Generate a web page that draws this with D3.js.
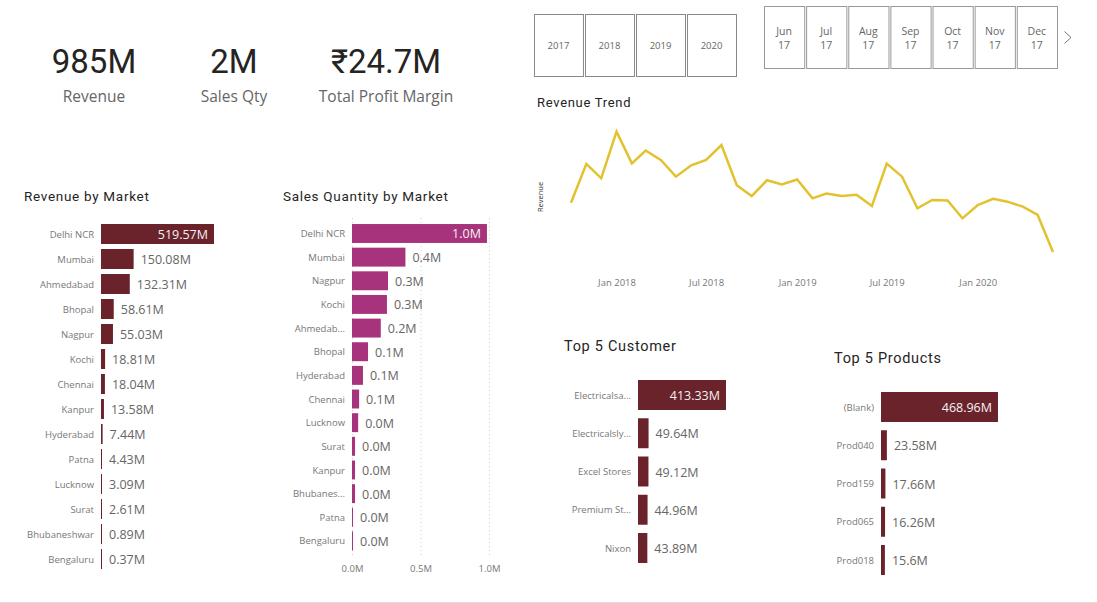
<!DOCTYPE html>
<html>
<head>
<meta charset="utf-8">
<script type="text/javascript" src="https://d3js.org/d3.v7.min.js"></script>
<style>
	html, body { margin: 0; padding: 0; background: #fff; }
	svg { display: block; }
	text { font-family: "Open Sans", sans-serif; }
	.title { font-family: Roboto, sans-serif; font-weight: 400; fill: #252423; letter-spacing: 0.7px; }
	.kpi { font-family: Roboto, "DejaVu Sans", sans-serif; font-size: 33px; fill: #252423; text-anchor: middle; }
	.kpiLabel { font-size: 15.5px; fill: #666; text-anchor: middle; }
	.cat text { font-size: 9.5px; fill: #777; }
	.val { font-size: 12.5px; fill: #666; }
	.val.inside { fill: #f2f2f2; text-anchor: end; }
	.tile rect { fill: #fff; stroke: #888; stroke-width: 1; }
	.tile.month rect { stroke: #999; }
	.tile text { fill: #666; text-anchor: middle; }
</style>
</head>
<body>
<script>
var width = 1097, height = 603;

//kpi cards
var kpiValues = ["985M", "2M", "₹24.7M"];
var kpiLabels = ["Revenue", "Sales Qty", "Total Profit Margin"];

//slicers
var years = ["2017", "2018", "2019", "2020"];
var sliceMonths = ["Jun", "Jul", "Aug", "Sep", "Oct", "Nov", "Dec"];
var sliceMonthYears = ["17", "17", "17", "17", "17", "17", "17"];

//bar charts
var marketNames = ["Delhi NCR", "Mumbai", "Ahmedabad", "Bhopal", "Nagpur", "Kochi", "Chennai", "Kanpur", "Hyderabad", "Patna", "Lucknow", "Surat", "Bhubaneshwar", "Bengaluru"];
var marketRevenue = [519.57, 150.08, 132.31, 58.61, 55.03, 18.81, 18.04, 13.58, 7.44, 4.43, 3.09, 2.61, 0.89, 0.37];

var qtyNames = ["Delhi NCR", "Mumbai", "Nagpur", "Kochi", "Ahmedab...", "Bhopal", "Hyderabad", "Chennai", "Lucknow", "Surat", "Kanpur", "Bhubanes...", "Patna", "Bengaluru"];
var qtyValues = [0.985, 0.39, 0.263, 0.255, 0.21, 0.117, 0.08, 0.052, 0.045, 0.022, 0.022, 0.022, 0.005, 0.005];
var qtyTicks = [0, 0.5, 1];

var customerNames = ["Electricalsa...", "Electricalsly...", "Excel Stores", "Premium St...", "Nixon"];
var customerRevenue = [413.33, 49.64, 49.12, 44.96, 43.89];

var productNames = ["(Blank)", "Prod040", "Prod159", "Prod065", "Prod018"];
var productRevenue = [468.96, 23.58, 17.66, 16.26, 15.6];

//revenue trend, values in millions
var trendMonths = ["2017-10", "2017-11", "2017-12", "2018-01", "2018-02", "2018-03", "2018-04", "2018-05", "2018-06", "2018-07", "2018-08", "2018-09", "2018-10", "2018-11", "2018-12", "2019-01", "2019-02", "2019-03", "2019-04", "2019-05", "2019-06", "2019-07", "2019-08", "2019-09", "2019-10", "2019-11", "2019-12", "2020-01", "2020-02", "2020-03", "2020-04", "2020-05", "2020-06"];
var trendRevenue = [24.2, 38.2, 33.0, 49.8, 38.4, 43.0, 39.5, 33.6, 37.7, 39.6, 45.0, 30.5, 26.6, 32.3, 30.8, 32.6, 25.8, 27.5, 26.6, 27.1, 23.0, 38.3, 33.6, 22.2, 25.2, 25.0, 18.6, 23.4, 25.6, 24.6, 22.8, 19.8, 6.5];
var trendTicks = ["2018-01", "2018-07", "2019-01", "2019-07", "2020-01"];

var maroon = "#6b232b", magenta = "#a6337b", gold = "#e2c22e";

var svg = d3.select("body").append("svg")
	.attr("width", width)
	.attr("height", height);

//kpi cards
var kpiX = d3.scaleOrdinal().domain(kpiValues).range([94, 234, 386]);
svg.selectAll("text.kpi")
	.data(kpiValues)
	.enter().append("text")
	.attr("class", "kpi")
	.attr("x", function(d){return kpiX(d);})
	.attr("y", 73)
	.text(function(d){return d;});
svg.selectAll("text.kpiLabel")
	.data(kpiLabels)
	.enter().append("text")
	.attr("class", "kpiLabel")
	.attr("x", function(d, i){return kpiX(kpiValues[i]);})
	.attr("y", 102)
	.text(function(d){return d;});

//year slicer
var yearX = d3.scaleBand().domain(years).range([534, 736]).paddingInner(0.04);
var yearTile = svg.selectAll("g.year")
	.data(years)
	.enter().append("g")
	.attr("class", "tile year")
	.attr("transform", function(d){return "translate(" + yearX(d) + ",14)";});
yearTile.append("rect")
	.attr("x", 0.5).attr("y", 0.5)
	.attr("width", yearX.bandwidth())
	.attr("height", 62);
yearTile.append("text")
	.attr("x", yearX.bandwidth() / 2)
	.attr("y", 35)
	.style("font-size", "9.5px")
	.text(function(d){return d;});

//month slicer
var monthX = d3.scaleBand().domain(sliceMonths).range([764, 1057]).paddingInner(0.045);
var monthTile = svg.selectAll("g.month")
	.data(sliceMonths)
	.enter().append("g")
	.attr("class", "tile month")
	.attr("transform", function(d){return "translate(" + monthX(d) + ",6)";});
monthTile.append("rect")
	.attr("x", 0.5).attr("y", 0.5)
	.attr("width", monthX.bandwidth())
	.attr("height", 62);
monthTile.append("text")
	.attr("x", monthX.bandwidth() / 2)
	.attr("y", 29)
	.style("font-size", "10.5px")
	.text(function(d){return d;});
monthTile.append("text")
	.attr("x", monthX.bandwidth() / 2)
	.attr("y", 43)
	.style("font-size", "10.5px")
	.text(function(d, i){return sliceMonthYears[i];});
svg.append("path")
	.attr("d", "M1064.5,31.5 L1071,37.5 L1064.5,43.5")
	.attr("fill", "none")
	.attr("stroke", "#777")
	.attr("stroke-width", 1);

//revenue trend
var parseMonth = d3.timeParse("%Y-%m");
var trendX = d3.scaleTime()
	.domain([parseMonth(trendMonths[0]), parseMonth(trendMonths[trendMonths.length - 1])])
	.range([571, 1053]);
var trendY = d3.scaleLinear().domain([0, 50]).range([270, 131.1]);

svg.append("text")
	.attr("class", "title")
	.attr("x", 537).attr("y", 107)
	.style("font-size", "13px")
	.text("Revenue Trend");
svg.append("text")
	.attr("transform", "translate(543,197) rotate(-90)")
	.attr("text-anchor", "middle")
	.style("font-size", "7.5px")
	.style("fill", "#333")
	.text("Revenue");

var trendLine = d3.line()
	.x(function(d, i){return trendX(parseMonth(trendMonths[i]));})
	.y(function(d){return trendY(d);});
svg.append("path")
	.datum(trendRevenue)
	.attr("d", trendLine)
	.attr("fill", "none")
	.attr("stroke", gold)
	.attr("stroke-width", 2.5);

var trendAxis = svg.append("g")
	.attr("transform", "translate(0,272)")
	.call(d3.axisBottom(trendX)
		.tickValues(trendTicks.map(parseMonth))
		.tickFormat(d3.timeFormat("%b %Y"))
		.tickSize(0)
		.tickPadding(7));
trendAxis.select(".domain").remove();
trendAxis.selectAll("text")
	.style("font-size", "9.5px")
	.style("font-family", "\"Open Sans\", sans-serif")
	.style("fill", "#777");

//horizontal bar chart, labels go inside the bar when they do not fit beside it
function drawBars(opt) {
	var x = d3.scaleLinear().domain(opt.domain).range(opt.xRange);
	var y = d3.scaleBand().domain(d3.range(opt.names.length)).range(opt.yRange).padding(opt.padding);
	var g = svg.append("g");

	if (opt.ticks) {
		var grid = g.append("g")
			.attr("transform", "translate(0," + opt.yRange[1] + ")")
			.call(d3.axisBottom(x)
				.tickValues(opt.ticks)
				.tickFormat(function(d){return d.toFixed(1) + "M";})
				.tickSize(opt.yRange[0] - opt.yRange[1] - 4)
				.tickPadding(0));
		grid.select(".domain").remove();
		grid.selectAll("line")
			.attr("stroke", "#ccc")
			.attr("stroke-dasharray", "1,3");
		grid.selectAll("text")
			.attr("y", 10)
			.style("font-size", "9.5px")
			.style("font-family", "\"Open Sans\", sans-serif")
			.style("fill", "#777");
	}

	g.selectAll("rect")
		.data(opt.values)
		.enter().append("rect")
		.attr("x", x(0))
		.attr("y", function(d, i){return y(i);})
		.attr("width", function(d){return Math.max(1, x(d) - x(0));})
		.attr("height", y.bandwidth())
		.attr("fill", opt.color);

	g.selectAll("text.val")
		.data(opt.values)
		.enter().append("text")
		.attr("class", function(d, i){return i == 0 ? "val inside" : "val";})
		.attr("x", function(d, i){return i == 0 ? x(d) - 6 : Math.max(x(0) + 1, x(d)) + 7;})
		.attr("y", function(d, i){return y(i) + y.bandwidth() / 2 + 0.5;})
		.attr("dy", "0.36em")
		.text(opt.format);

	var cats = g.append("g")
		.attr("class", "cat")
		.attr("transform", "translate(" + (x(0) - 1) + ",0.5)")
		.call(d3.axisLeft(y)
			.tickFormat(function(i){return opt.names[i];})
			.tickSize(0)
			.tickPadding(6));
	cats.select(".domain").remove();
	cats.selectAll("text").style("font-family", "\"Open Sans\", sans-serif");

	svg.append("text")
		.attr("class", "title")
		.attr("x", opt.titleX).attr("y", opt.titleY)
		.style("font-size", opt.titleSize)
		.text(opt.title);
}

function millions(d){return d + "M";}

drawBars({
	title: "Revenue by Market", titleX: 24, titleY: 201, titleSize: "13.5px",
	names: marketNames, values: marketRevenue, color: maroon,
	domain: [0, 519.57], xRange: [101, 214], yRange: [219, 574], padding: 0.2,
	format: millions
});
drawBars({
	title: "Sales Quantity by Market", titleX: 283, titleY: 201, titleSize: "13.5px",
	names: qtyNames, values: qtyValues, color: magenta,
	domain: [0, 1], xRange: [352, 489], yRange: [219.3, 555.1], padding: 0.2,
	ticks: qtyTicks,
	format: function(d){return d.toFixed(1) + "M";}
});
drawBars({
	title: "Top 5 Customer", titleX: 564, titleY: 351, titleSize: "14.5px",
	names: customerNames, values: customerRevenue, color: maroon,
	domain: [0, 413.33], xRange: [638, 726], yRange: [371.75, 571.25], padding: 0.216,
	format: millions
});
drawBars({
	title: "Top 5 Products", titleX: 834, titleY: 363, titleSize: "14.5px",
	names: productNames, values: productRevenue, color: maroon,
	domain: [0, 468.96], xRange: [881, 998], yRange: [383.75, 583.25], padding: 0.216,
	format: millions
});

//bottom rule of the page
svg.append("line")
	.attr("x1", 0).attr("x2", width)
	.attr("y1", 602.5).attr("y2", 602.5)
	.attr("stroke", "#ddd");
</script>
</body>
</html>
